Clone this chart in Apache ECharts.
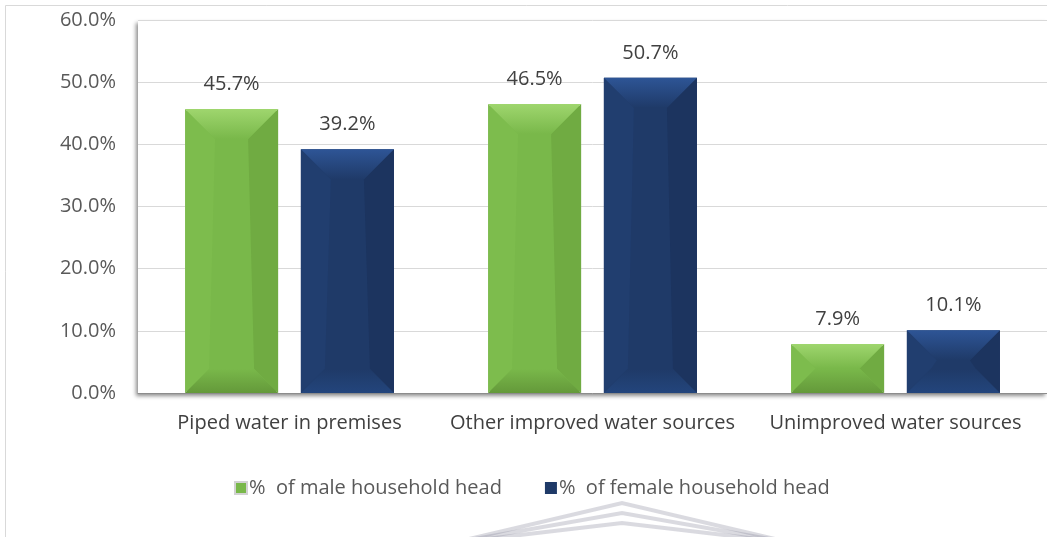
<!DOCTYPE html>
<html>
<head>
<meta charset="utf-8">
<title>Water source by sex of household head</title>
<script src="https://cdn.jsdelivr.net/npm/echarts@6/dist/echarts.min.js"></script>
<style>
  html, body { margin: 0; padding: 0; background: #ffffff; }
  #chart { width: 1047px; height: 537px; }
</style>
</head>
<body>
<div id="chart"></div>
<script>
// Source categories and the share of households in each, by sex of head
const categories = ['Piped water in premises', 'Other improved water sources', 'Unimproved water sources'];
const maleValues = [45.7, 46.5, 7.9];
const femaleValues = [39.2, 50.7, 10.1];
const seriesNames = ['%  of male household head', '%  of female household head'];
const yTicks = { min: 0, max: 60, interval: 10 };

const FONT = '"Open Sans", "Noto Sans", sans-serif';
const FONT_SIZE = 20;
const BAR_W = 0.307;   // bar width as a share of the category band
const BAR_GAP = 0.245; // gap between paired bars as a share of bar width

// Bevel facet colours for each series: face, top, left, right, bottom
const palettes = [
  { face: '#79b84a', top: '#9fd66e', left: '#7dbc4d', right: '#70ab42', bottom: '#64993a' },
  { face: '#1f3a68', top: '#2e5596', left: '#213e6f', right: '#1c345f', bottom: '#23457c' }
];

const chart = echarts.init(document.getElementById('chart'), null, { renderer: 'canvas' });

// Draws the raised bevel facets on top of each bar of one series
function bevelRenderer(seriesIdx) {
  const pal = palettes[seriesIdx];
  return function (params, api) {
    const cat = api.value(0);
    const val = api.value(1);
    const band = api.size([1, 0])[0];
    const w = band * BAR_W;
    const shift = (seriesIdx === 0 ? -1 : 1) * w * (1 + BAR_GAP) / 2;
    const top = api.coord([cat, val]);
    const base = api.coord([cat, 0]);
    const cx = top[0] + shift;
    const x0 = cx - w / 2, x1 = cx + w / 2;
    const y0 = top[1], y1 = base[1];
    const bt = Math.min(30, (y1 - y0) / 2, w / 2);
    const bb = Math.min(24, (y1 - y0) / 2, w / 2);
    const poly = (pts, fill) => ({ type: 'polygon', shape: { points: pts }, style: { fill: fill } });
    return {
      type: 'group',
      children: [
        poly([[x0, y0], [x0 + bt, y0 + bt], [x0 + bb, y1 - bb], [x0, y1]], pal.left),
        poly([[x1, y0], [x1 - bt, y0 + bt], [x1 - bb, y1 - bb], [x1, y1]], pal.right),
        poly([[x0, y1], [x1, y1], [x1 - bb, y1 - bb], [x0 + bb, y1 - bb]],
          new echarts.graphic.LinearGradient(0, 0, 0, 1, [
            { offset: 0, color: pal.face },
            { offset: 1, color: pal.bottom }
          ])),
        poly([[x0, y0], [x1, y0], [x1 - bt, y0 + bt], [x0 + bt, y0 + bt]],
          new echarts.graphic.LinearGradient(0, 0, 0, 1, [
            { offset: 0, color: pal.top },
            { offset: 1, color: pal.face }
          ]))
      ]
    };
  };
}

const labelStyle = {
  show: true,
  position: 'top',
  distance: 15,
  color: '#404040',
  fontFamily: FONT,
  fontSize: FONT_SIZE,
  formatter: p => p.value.toFixed(1) + '%'
};

// Faint chevrons of the page emblem below the legend
const chevrons = [0, 10, 20].map(dy => ({
  type: 'polyline',
  silent: true,
  shape: { points: [[452, 543], [622, 503 + dy], [792, 543]] },
  style: { stroke: 'rgba(140,140,160,0.32)', lineWidth: 4, fill: null }
}));

chart.setOption({
  backgroundColor: '#ffffff',
  animation: false,
  textStyle: { fontFamily: FONT },
  graphic: [
    {
      type: 'rect',
      silent: true,
      shape: { x: 5.5, y: 5.5, width: 1200, height: 700 },
      style: { fill: null, stroke: '#d9d9d9', lineWidth: 1 },
      z: -10
    }
  ].concat(chevrons),
  grid: {
    left: 138,
    right: -10,
    top: 20,
    bottom: 144,
    show: true,
    backgroundColor: '#ffffff',
    borderWidth: 0,
    shadowColor: 'rgba(0,0,0,0.45)',
    shadowBlur: 4,
    shadowOffsetX: -2,
    shadowOffsetY: 3
  },
  legend: {
    data: seriesNames,
    left: 229,
    top: 473,
    itemWidth: 12,
    itemHeight: 12,
    itemGap: 43,
    icon: 'rect',
    textStyle: { color: '#595959', fontSize: FONT_SIZE, fontFamily: FONT, padding: [0, 0, 0, -3] }
  },
  xAxis: {
    type: 'category',
    data: categories,
    axisLine: { show: true, lineStyle: { color: '#8c8c8c', width: 1 } },
    axisTick: { show: false },
    axisLabel: { color: '#404040', fontSize: FONT_SIZE, fontFamily: FONT, margin: 20, interval: 0 },
    splitLine: { show: false }
  },
  yAxis: {
    type: 'value',
    min: yTicks.min,
    max: yTicks.max,
    interval: yTicks.interval,
    axisLine: { show: false },
    axisTick: { show: false },
    axisLabel: {
      color: '#595959',
      fontSize: FONT_SIZE,
      fontFamily: FONT,
      margin: 22,
      formatter: v => v.toFixed(1) + '%'
    },
    splitLine: { lineStyle: { color: '#d9d9d9', width: 1 } }
  },
  series: [
    {
      name: seriesNames[0],
      type: 'bar',
      data: maleValues,
      barWidth: (BAR_W * 100) + '%',
      barGap: (BAR_GAP * 100) + '%',
      itemStyle: { color: palettes[0].face, borderColor: '#d2d2d2', borderWidth: 2 },
      label: labelStyle,
      z: 2
    },
    {
      name: seriesNames[1],
      type: 'bar',
      data: femaleValues,
      barWidth: (BAR_W * 100) + '%',
      barGap: (BAR_GAP * 100) + '%',
      itemStyle: { color: palettes[1].face },
      label: labelStyle,
      z: 2
    },
    {
      type: 'custom',
      silent: true,
      z: 3,
      renderItem: bevelRenderer(0),
      data: maleValues.map((v, i) => [i, v])
    },
    {
      type: 'custom',
      silent: true,
      z: 3,
      renderItem: bevelRenderer(1),
      data: femaleValues.map((v, i) => [i, v])
    }
  ]
});
</script>
</body>
</html>
